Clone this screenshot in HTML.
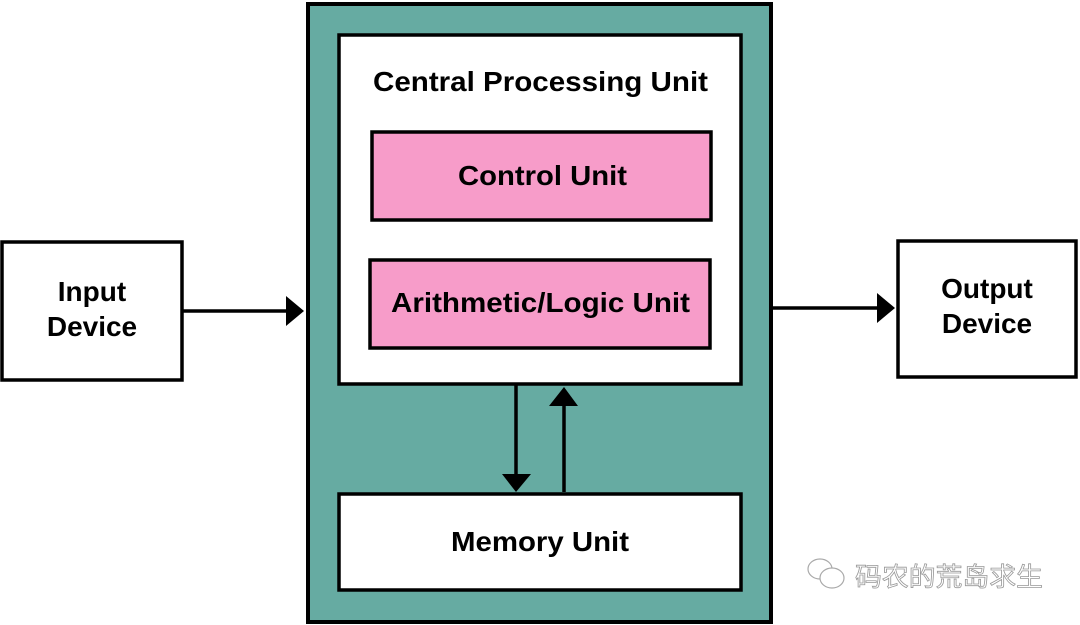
<!DOCTYPE html>
<html><head><meta charset="utf-8"><style>
html,body{margin:0;padding:0;background:#fff;}
svg{display:block;}
text{font-family:"Liberation Sans",Arial,sans-serif;font-weight:bold;fill:#000;}
</style></head><body>
<svg width="1080" height="625" viewBox="0 0 1080 625" xmlns="http://www.w3.org/2000/svg">
<rect x="0" y="0" width="1080" height="625" fill="#fff"/>
<rect x="308" y="4" width="463" height="618" fill="#66aba2" stroke="#000" stroke-width="4"/>
<rect x="339" y="35" width="402" height="349" fill="#fff" stroke="#000" stroke-width="3.5"/>
<text x="373" y="91" font-size="28" textLength="335" lengthAdjust="spacingAndGlyphs">Central Processing Unit</text>
<rect x="372" y="132" width="339" height="88" fill="#f79cc9" stroke="#000" stroke-width="3.5"/>
<text x="458" y="185" font-size="28" textLength="169" lengthAdjust="spacingAndGlyphs">Control Unit</text>
<rect x="370" y="260" width="340" height="88" fill="#f79cc9" stroke="#000" stroke-width="3.5"/>
<text x="391" y="312" font-size="28" textLength="299" lengthAdjust="spacingAndGlyphs">Arithmetic/Logic Unit</text>
<rect x="339" y="494" width="402" height="96" fill="#fff" stroke="#000" stroke-width="3.5"/>
<text x="451" y="551" font-size="28" textLength="178" lengthAdjust="spacingAndGlyphs">Memory Unit</text>
<line x1="516" y1="385" x2="516" y2="475" stroke="#000" stroke-width="3.5"/>
<polygon points="502,474 531,474 516,492" fill="#000"/>
<line x1="564" y1="492" x2="564" y2="404" stroke="#000" stroke-width="3.5"/>
<polygon points="549,406 578,406 564,387" fill="#000"/>
<rect x="2" y="242" width="180" height="138" fill="#fff" stroke="#000" stroke-width="3.5"/>
<text x="92" y="301" font-size="28" text-anchor="middle">Input</text>
<text x="92" y="336" font-size="28" text-anchor="middle">Device</text>
<line x1="183" y1="311" x2="288" y2="311" stroke="#000" stroke-width="3.5"/>
<polygon points="286,296 304,311 286,326" fill="#000"/>
<rect x="898" y="241" width="178" height="136" fill="#fff" stroke="#000" stroke-width="3.5"/>
<text x="987" y="298" font-size="28" text-anchor="middle">Output</text>
<text x="987" y="333" font-size="28" text-anchor="middle">Device</text>
<line x1="773" y1="308" x2="880" y2="308" stroke="#000" stroke-width="3.5"/>
<polygon points="877,293 895,308 877,323" fill="#000"/>
<g fill="#fff" stroke="#aaa" stroke-width="1.2">
<ellipse cx="820" cy="569" rx="12" ry="10"/>
<ellipse cx="832" cy="578" rx="12" ry="10"/>
</g>
<text x="855" y="586" font-size="26" textLength="188" lengthAdjust="spacingAndGlyphs" style="font-family:'Noto Sans CJK SC',sans-serif;font-weight:normal;fill:#fff;stroke:#999;stroke-width:0.8">码农的荒岛求生</text>
</svg>
</body></html>
